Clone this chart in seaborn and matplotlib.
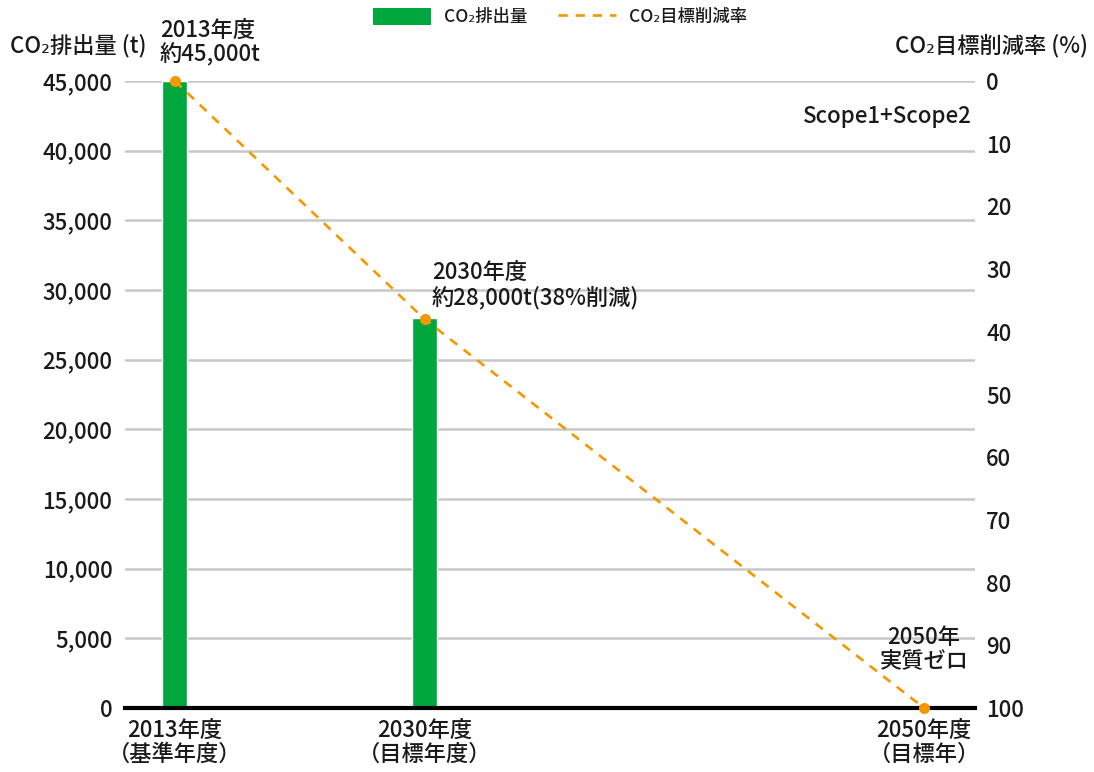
import matplotlib
matplotlib.use("Agg")
import matplotlib.pyplot as plt
import seaborn as sns
from matplotlib.patches import Patch
from matplotlib.lines import Line2D

# ---- data ----
x_order = ["2013", "2030", "2040", "2050"]      # category slots (2040 left empty)
bar_cats = ["2013", "2030"]
emissions = [45000, 28000]
line_cats = ["2013", "2030", "2050"]
reduction = [0, 38, 100]
xtick_cats = ["2013", "2030", "2050"]
xtick_labels = ["2013年度\n（基準年度）", "2030年度\n（目標年度）", "2050年度\n（目標年）"]
left_ticks = list(range(0, 45001, 5000))
right_ticks = list(range(0, 101, 10))

GREEN = "#00a73c"
ORANGE = "#f39800"
TXT = "#1a1a1a"
FS = 16
DASH = (0, (3.5, 3))

sns.set_theme(style="white")
plt.rcParams['font.family'] = ['Noto Sans CJK JP', 'DejaVu Sans']
plt.rcParams['font.weight'] = 'medium'
plt.rcParams['text.color'] = TXT

fig = plt.figure(figsize=(10.94, 7.72), dpi=100)
L, R, B, T = 125/1094, 975/1094, 1-708/772, 1-81/772
ax = fig.add_axes([L, B, R-L, T-B])

sns.barplot(x=bar_cats, y=emissions, order=x_order, width=0.1,
            color=GREEN, saturation=1, ax=ax, zorder=3)
ax.set_xlim(-0.2, 3.204)
ax.set_ylim(0, 45000)
ax.set_yticks(left_ticks)
ax.set_yticklabels([f"{v:,}" for v in left_ticks], fontsize=FS, color=TXT)
xpos = [x_order.index(c) for c in xtick_cats]
ax.set_xticks(xpos)
ax.set_xticklabels(xtick_labels, fontsize=FS, color=TXT, linespacing=1.05)
ax.tick_params(axis='y', length=0, pad=9)
ax.tick_params(axis='x', length=0, pad=8)
ax.set_xlabel("")
ax.set_ylabel("")
ax.grid(axis='y', color="#c8c8c8", linewidth=1.8, zorder=0)
ax.set_axisbelow(True)
for s in ["top", "right", "left"]:
    ax.spines[s].set_visible(False)
ax.spines["bottom"].set_color("black")
ax.spines["bottom"].set_linewidth(3)
ax.spines["bottom"].set_zorder(4)

ax2 = ax.twinx()
line_x = [x_order.index(c) for c in line_cats]
sns.lineplot(x=line_x, y=reduction, ax=ax2, color=ORANGE, linestyle=DASH,
             linewidth=1.9, marker='o', markersize=8, markeredgewidth=0, clip_on=False, zorder=5)
ax2.set_ylim(100, 0)
ax2.set_yticks(right_ticks)
ax2.set_yticklabels([str(v) for v in right_ticks], fontsize=FS, color=TXT)
ax2.tick_params(axis='y', length=0, pad=8)
ax2.set_ylabel("")
for s in ["top", "right", "left", "bottom"]:
    ax2.spines[s].set_visible(False)
ax2.set_xlim(-0.2, 3.204)

# axis titles
fig.text(10/1094, 1-46/772, "CO₂排出量 (t)", fontsize=FS, ha='left', va='center')
fig.text(1088/1094, 1-46/772, "CO₂目標削減率 (%)", fontsize=FS, ha='right', va='center')

# annotations
fig.text(160/1094, 1-30/772, "2013年度", fontsize=FS, ha='left', va='center')
fig.text(160/1094, 1-55/772, "約45,000t", fontsize=FS, ha='left', va='center')
fig.text(432/1094, 1-272/772, "2030年度", fontsize=FS, ha='left', va='center')
fig.text(432/1094, 1-298/772, "約28,000t(38%削減)", fontsize=FS, ha='left', va='center')
fig.text(972/1094, 1-117/772, "Scope1+Scope2", fontsize=FS, ha='right', va='center')
fig.text(924/1094, 1-637/772, "2050年", fontsize=FS, ha='center', va='center')
fig.text(924/1094, 1-662/772, "実質ゼロ", fontsize=FS, ha='center', va='center')

# legend
handles = [Patch(facecolor=GREEN, edgecolor='none', label="CO₂排出量"),
           Line2D([0], [0], color=ORANGE, linestyle=DASH, linewidth=1.9, label="CO₂目標削減率")]
fig.legend(handles=handles, loc='center', bbox_to_anchor=(560/1094, 1-17/772), ncol=2,
           frameon=False, fontsize=12.5, handlelength=3.35, handleheight=1.2, columnspacing=1.8,
           handletextpad=0.7)

fig.savefig("out.png", dpi=100)
